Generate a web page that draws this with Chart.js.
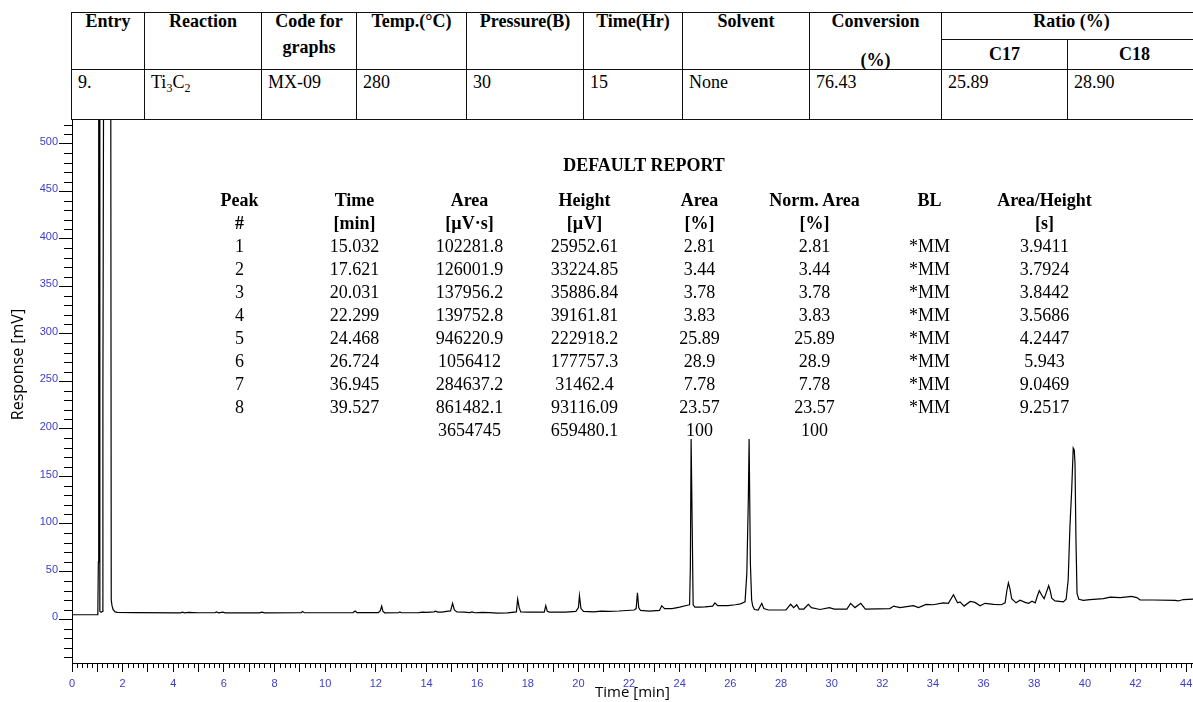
<!DOCTYPE html>
<html>
<head>
<meta charset="utf-8">
<title>MX-09 chromatogram</title>
<script src="https://cdn.jsdelivr.net/npm/chart.js@4.4.1/dist/chart.umd.min.js"></script>
<style>
    html, body { margin: 0; padding: 0; background: #fff; }
    body { position: relative; width: 1193px; height: 702px; overflow: hidden; }
    #chromCanvas { position: absolute; left: 0; top: 0; }

    /* run summary table on top */
    #runTable {
        position: absolute; left: 71px; top: 12px;
        border-collapse: collapse; table-layout: fixed; width: 1130px;
        font-family: "Liberation Serif", "Times New Roman", serif; font-size: 18px;
        background: #fff; z-index: 2;
    }
    #runTable th, #runTable td { border: 1.5px solid #111; padding: 0; overflow: hidden; white-space: nowrap; }
    #runTable th { font-weight: bold; text-align: center; vertical-align: top; line-height: 17px; }
    #runTable th.sub { vertical-align: middle; }
    #runTable td { vertical-align: top; text-align: left; padding: 4px 0 0 6px; line-height: 17px; }
    #runTable tr.h1 { height: 27px; }
    #runTable tr.h2 { height: 30px; }
    #runTable tr.d { height: 50px; }
    #runTable sub { font-size: 12px; vertical-align: -4px; line-height: 0; }

    /* peak report drawn over the plot */
    #reportTitle {
        position: absolute; left: 494px; top: 156px; width: 300px; text-align: center;
        font-family: "Liberation Serif", "Times New Roman", serif; font-size: 18px; font-weight: bold;
        line-height: 18px; z-index: 3;
    }
    #report {
        position: absolute; left: 182px; top: 189px; border-collapse: collapse; table-layout: fixed;
        font-family: "Liberation Serif", "Times New Roman", serif; font-size: 18px; z-index: 3;
    }
    #report td { width: 115px; padding: 0; height: 23px; line-height: 23px; text-align: center; white-space: nowrap; }
    #report tr.head td { font-weight: bold; }
</style>
</head>
<body>
<canvas id="chromCanvas" width="1193" height="702"></canvas>
<table id="runTable"></table>
<div id="reportTitle">DEFAULT REPORT</div>
<table id="report"></table>

<script>
// Run summary table
const runHeaders = ['Entry', 'Reaction', 'Code for|graphs', 'Temp.(°C)', 'Pressure(B)', 'Time(Hr)', 'Solvent', 'Conversion||(%)'];
const ratioHeaders = ['C17', 'C18'];
const runValues = ['9.', 'Ti<sub>3</sub>C<sub>2</sub>', 'MX-09', '280', '30', '15', 'None', '76.43', '25.89', '28.90'];
const runColWidths = [73, 117, 95, 110, 117, 99, 127, 132, 126, 134];

// Peak report
const peakNo = ['1', '2', '3', '4', '5', '6', '7', '8'];
const peakTime = ['15.032', '17.621', '20.031', '22.299', '24.468', '26.724', '36.945', '39.527'];
const peakArea = ['102281.8', '126001.9', '137956.2', '139752.8', '946220.9', '1056412', '284637.2', '861482.1'];
const peakHeight = ['25952.61', '33224.85', '35886.84', '39161.81', '222918.2', '177757.3', '31462.4', '93116.09'];
const areaPct = ['2.81', '3.44', '3.78', '3.83', '25.89', '28.9', '7.78', '23.57'];
const normAreaPct = ['2.81', '3.44', '3.78', '3.83', '25.89', '28.9', '7.78', '23.57'];
const baselineCode = ['*MM', '*MM', '*MM', '*MM', '*MM', '*MM', '*MM', '*MM'];
const areaPerHeight = ['3.9411', '3.7924', '3.8442', '3.5686', '4.2447', '5.943', '9.0469', '9.2517'];
const reportHead1 = ['Peak', 'Time', 'Area', 'Height', 'Area', 'Norm. Area', 'BL', 'Area/Height'];
const reportHead2 = ['#', '[min]', '[µV·s]', '[µV]', '[%]', '[%]', '', '[s]'];
const reportTotals = ['', '', '3654745', '659480.1', '100', '100', '', ''];

// Chromatogram trace: time [min] and response [mV]
const timeMin = [
    0, 1.02, 1.04, 1.05, 1.06, 1.08, 1.10, 1.16, 1.20, 1.22, 1.25, 1.53, 1.55, 1.58, 1.62, 1.70, 1.80,
    2.5, 4.3, 4.35, 4.45, 4.6, 5.0, 5.65, 5.7, 5.8, 5.95, 6.05, 7.4, 7.5, 7.6, 9.05, 9.1, 9.18,
    11.1, 11.18, 11.25, 12.1, 12.18, 12.23, 12.28, 12.35, 12.9, 12.95, 13.0, 13.7, 13.85, 14.0,
    14.3, 14.35, 14.45, 14.6, 14.8, 14.95, 15.03, 15.1, 15.2, 15.5, 15.7, 15.8, 15.9, 16.2, 16.5,
    16.8, 17.2, 17.55, 17.6, 17.66, 17.72, 18.0, 18.65, 18.71, 18.77, 18.85, 19.5, 19.9, 20.0,
    20.04, 20.1, 20.2, 20.6, 20.9, 21.2, 21.6, 22.2, 22.28, 22.33, 22.38, 22.45, 22.8, 23.2, 23.29,
    23.4, 23.7, 24.0, 24.3, 24.39, 24.42, 24.45, 24.47, 24.50, 24.53, 24.6, 24.8, 25.0, 25.3,
    25.39, 25.5, 25.9, 26.2, 26.4, 26.58, 26.65, 26.71, 26.74, 26.76, 26.79, 26.84, 26.88, 26.95,
    27.1, 27.24, 27.32, 27.5, 28.2, 28.3, 28.38, 28.5, 28.62, 28.72, 28.9, 29.08, 29.2, 29.54,
    29.91, 30.1, 30.6, 30.75, 30.92, 31.15, 31.33, 32.3, 32.45, 32.7, 33.23, 33.43, 33.73, 34.0,
    34.41, 34.61, 34.81, 34.97, 35.07, 35.23, 35.47, 35.66, 35.86, 36.06, 36.4, 36.7, 36.85, 36.92,
    36.98, 37.04, 37.11, 37.28, 37.44, 37.64, 37.78, 37.91, 38.04, 38.12, 38.2, 38.3, 38.39, 38.48,
    38.57, 38.63, 38.69, 38.82, 39.15, 39.26, 39.34, 39.41, 39.48, 39.54, 39.58, 39.61, 39.65,
    39.69, 39.76, 39.94, 40.2, 40.73, 41.0, 41.4, 41.85, 42.05, 42.18, 42.7, 43.56, 43.69, 43.89, 44.3
];
const responseMv = [
    4.5, 4.5, 60, 360, 600, 600, 8, 7, 8, 230, 600, 600, 20, 14, 10, 7.5, 7,
    6.8, 6.5, 7.3, 6.4, 6.9, 6.6, 6.6, 7.4, 6.5, 7.2, 6.5, 6.5, 7.3, 6.5, 6.6, 7.8, 6.6,
    6.8, 8.5, 6.8, 6.8, 9, 13.5, 8, 6.5, 6.6, 7.4, 6.6, 6.7, 7.3, 7.0,
    7.5, 8.3, 7.2, 7.3, 8, 8.5, 16.5, 9.5, 7.5, 7.2, 6.8, 7.5, 6.6, 7.0, 6.7,
    6.2, 6.5, 7.5, 21, 12, 7.5, 7.2, 7.3, 14, 8, 7.2, 7.3, 8, 12,
    24.5, 11, 8, 7.6, 8.2, 8, 8.4, 9.5, 11, 27.7, 12, 9, 8.2, 9, 14,
    11, 11, 12.5, 14.5, 15, 55, 189.5, 189.5, 81, 15, 12.6, 12.5, 12.8, 13.5,
    17, 14, 14, 15, 16, 18, 48, 127, 189.5, 189.5, 59, 20, 14, 10,
    9.5, 16.5, 11, 9.5, 9.5, 13, 15.5, 12, 15, 10.5, 10.5, 15.4, 12, 10,
    12, 10.5, 10.5, 16.5, 12, 16.5, 10.5, 11, 13.6, 12, 14, 12, 15.4, 15,
    17, 16.5, 25.6, 17, 18, 13.6, 18.5, 17.5, 14, 16.5, 15.4, 15, 17, 30,
    38, 32, 21.4, 17, 19.7, 17.5, 16.5, 18.7, 17, 24, 29.8, 25, 21.4, 28,
    35, 30, 21.9, 19, 18, 20.8, 41, 97, 136, 180, 178, 164, 80,
    27, 20.8, 19.7, 20.3, 21.4, 23, 22.5, 23.8, 22.5, 20, 20, 19.7, 19, 20.5, 21
];

// Axis ranges and ticks
const xRange = [0, 44.27];
const yRange = [-46.3, 582];
const xLabelStep = 2;
const yLabelStep = 50;
const yLabelMax = 500;
const yMinorRange = [-40, 520];

const axisBlue = '#3c3cc8';

// Build the summary table
function buildRunTable() {
    const table = document.getElementById('runTable');
    let html = '<colgroup>' + runColWidths.map(w => `<col style="width:${w}px">`).join('') + '</colgroup>';
    html += '<tr class="h1">';
    runHeaders.forEach(h => {
        const parts = h.split('|');
        let inner = `<div>${parts[0]}</div>`;
        if (parts.length === 2) inner += `<div style="margin-top:9px">${parts[1]}</div>`;
        if (parts.length === 3) inner += `<div style="margin-top:22px">${parts[2]}</div>`;
        html += `<th rowspan="2">${inner}</th>`;
    });
    html += '<th colspan="2">Ratio (%)</th></tr>';
    html += '<tr class="h2">' + ratioHeaders.map(h => `<th class="sub">${h}</th>`).join('') + '</tr>';
    html += '<tr class="d">' + runValues.map(v => `<td>${v}</td>`).join('') + '</tr>';
    table.innerHTML = html;
}

// Build the peak report
function buildReport() {
    const table = document.getElementById('report');
    const row = (cells, cls) => `<tr${cls ? ` class="${cls}"` : ''}>` + cells.map(c => `<td>${c}</td>`).join('') + '</tr>';
    let html = row(reportHead1, 'head') + row(reportHead2, 'head');
    peakNo.forEach((n, i) => {
        html += row([n, peakTime[i], peakArea[i], peakHeight[i], areaPct[i], normAreaPct[i], baselineCode[i], areaPerHeight[i]]);
    });
    html += row(reportTotals);
    table.innerHTML = html;
}

// Minor tick marks on both axes
const minorTicks = {
    id: 'minorTicks',
    afterDraw(chart) {
        const { ctx, scales: { x, y } } = chart;
        ctx.save();
        ctx.strokeStyle = '#000';
        ctx.lineWidth = 1;
        ctx.beginPath();
        for (let k = 1; k * 0.2 <= xRange[1]; k++) {
            if (k % 5 === 0) continue;
            const px = Math.round(x.getPixelForValue(k * 0.2)) + 0.5;
            ctx.moveTo(px, x.top);
            ctx.lineTo(px, x.top + 5);
        }
        for (let v = yMinorRange[0]; v <= yMinorRange[1]; v += 10) {
            if (v % yLabelStep === 0 && v >= 0 && v <= yLabelMax) continue;
            const py = Math.round(y.getPixelForValue(v)) + 0.5;
            ctx.moveTo(y.right - 8, py);
            ctx.lineTo(y.right, py);
        }
        ctx.stroke();
        ctx.restore();
    }
};

function drawChromatogram() {
    const ctx = document.getElementById('chromCanvas').getContext('2d');
    const points = timeMin.map((t, i) => ({ x: t, y: responseMv[i] }));

    new Chart(ctx, {
        type: 'line',
        data: {
            datasets: [{
                data: points,
                borderColor: '#000',
                borderWidth: 1.2,
                pointRadius: 0,
                tension: 0,
                fill: false
            }]
        },
        options: {
            responsive: false,
            animation: false,
            devicePixelRatio: 1,
            layout: { padding: { top: 66, left: 0, right: 0, bottom: 0 } },
            plugins: {
                legend: { display: false },
                tooltip: { enabled: false }
            },
            scales: {
                x: {
                    type: 'linear',
                    min: xRange[0],
                    max: xRange[1],
                    afterBuildTicks: s => {
                        s.ticks = s.ticks.filter(t => Math.abs(t.value - Math.round(t.value)) < 1e-6);
                    },
                    afterFit: s => {
                        s.height = 39;
                        s.paddingLeft = 0;
                        s.paddingRight = 0;
                    },
                    ticks: {
                        stepSize: 1,
                        includeBounds: false,
                        autoSkip: false,
                        maxRotation: 0,
                        padding: 5,
                        color: axisBlue,
                        font: { family: 'Liberation Sans', size: 11 },
                        callback: value => (Math.round(value) % xLabelStep === 0 ? String(Math.round(value)) : '')
                    },
                    grid: { drawOnChartArea: false, tickLength: 9, tickColor: '#000', tickWidth: 1 },
                    border: { color: '#000', width: 1 },
                    title: {
                        display: true,
                        text: 'Time [min]',
                        color: '#000',
                        font: { family: 'Open Sans', size: 15 },
                        padding: { top: 0, bottom: 0 }
                    }
                },
                y: {
                    min: yRange[0],
                    max: yRange[1],
                    afterBuildTicks: s => {
                        s.ticks = s.ticks.filter(t => t.value >= 0 && t.value <= yLabelMax && Math.abs(t.value % yLabelStep) < 1e-6);
                    },
                    afterFit: s => {
                        s.width = 72;
                        s.paddingTop = 0;
                        s.paddingBottom = 0;
                    },
                    ticks: {
                        stepSize: yLabelStep,
                        includeBounds: false,
                        autoSkip: false,
                        padding: 1,
                        labelOffset: -2,
                        color: axisBlue,
                        font: { family: 'Liberation Sans', size: 11 },
                        callback: value => String(value)
                    },
                    grid: { drawOnChartArea: false, tickLength: 13, tickColor: '#000', tickWidth: 1 },
                    border: { color: '#000', width: 1 },
                    title: {
                        display: true,
                        text: 'Response [mV]',
                        color: '#000',
                        font: { family: 'Open Sans', size: 16 },
                        padding: { top: 9, bottom: 0 }
                    }
                }
            }
        },
        plugins: [minorTicks]
    });
}

buildRunTable();
buildReport();
drawChromatogram();
</script>
</body>
</html>
